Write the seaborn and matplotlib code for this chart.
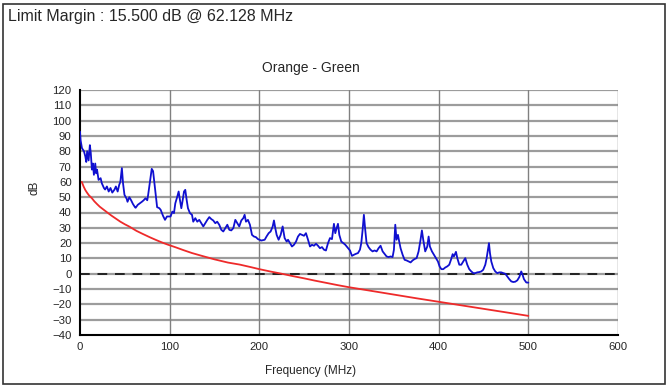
import matplotlib
matplotlib.use("Agg")
import matplotlib.pyplot as plt
import seaborn as sns
import pandas as pd
from matplotlib.patches import Rectangle

# ---- data ----
meas_freq = [0, 0.7, 2.2, 4.4, 6, 7, 8, 9.6, 11, 12, 13.3, 14.4, 15.5, 17, 18, 19, 20.7, 23, 24.4,
             26.7, 28, 30, 32, 34, 36, 38.5, 40, 42, 43.7, 45, 46.7, 48, 49.6, 52, 53, 55, 57,
             59, 61.5, 62.1, 64.4, 66.7, 69, 71, 73, 75, 76, 78, 80, 81.5, 83, 85, 86, 88.5, 90,
             92.6, 94.8, 97, 100, 101, 103, 104.8, 106.3, 108.5, 110, 111.5, 113, 114.5, 116,
             117.4, 119, 120.4, 122.6, 124.9, 126.3, 128.6, 130.8, 133, 135.3, 137.5, 139.7, 142,
             144.2, 146.4, 148.6, 150.9, 153, 155.3, 157.6, 159.8, 162, 164.3, 166.5, 168.7, 171,
             173.2, 175.4, 177.6, 179.9, 182.1, 183.6, 185.1, 187.3, 189.5, 191.8, 194, 196.2,
             198.5, 202.2, 206, 208, 210.4, 212.6, 214.9, 216.3, 217.8, 219.3, 221.5, 223.8, 226,
             228.2, 230.5, 232, 234.2, 236.4, 238.6, 240.9, 243.1, 245.3, 247.6, 249.8, 252,
             254.3, 256.5, 258.7, 261, 263.2, 265.4, 267.6, 269.9, 272.1, 274.3, 276.6, 278.8,
             281, 283.2, 284.7, 286.2, 287.7, 289.2, 291.4, 293.7, 295.9, 298.9, 301.1, 303.3,
             305.5, 307.7, 310, 312.2, 313.7, 315.2, 316.6, 318.1, 319.6, 321.8, 324, 326.3,
             328.5, 330.8, 333, 335.2, 337.5, 339.7, 341.9, 344.1, 346.4, 348.6, 350.1, 351.6,
             353, 354.6, 356, 357.5, 359.8, 362, 364.2, 366.5, 368.7, 370.9, 373.1, 375.4, 377.6,
             379.8, 381.3, 382.8, 385, 387.3, 388.8, 390.2, 392.5, 394.7, 396.9, 399.2, 401,
             403, 405.1, 407.4, 409.6, 411.8, 414, 415.6, 417, 419.3, 420.8, 423, 425.2, 427.4,
             429.7, 431.9, 434.1, 436.4, 438.6, 440.8, 443, 445.3, 447.5, 449.7, 452, 453.5, 455,
             456.1, 457.2, 458.7, 460.9, 463.1, 465.4, 467.6, 469.8, 472.1, 474.3, 476.5, 478.7,
             481, 483.2, 485.4, 487.7, 489.9, 492.1, 493.6, 495.1, 497.7, 500]
meas_db = [92.8, 87, 82, 80, 76.5, 73, 80, 74, 84, 79, 68, 72, 64.6, 72, 65.6, 68, 61.3, 62.4, 59,
           56, 55, 57, 53.7, 56, 53, 55, 57, 53.7, 58, 60, 69, 59, 51.5, 49, 47, 50, 48,
           45.6, 43.3, 43.1, 45, 46, 47, 48, 49.3, 48, 51.5, 60, 68.5, 67, 59, 48, 43.5, 42.8, 41.7,
           37.8, 35.2, 37.4, 37.4, 37.4, 40.6, 39.6, 46, 50.4, 53.7, 48, 42.8, 48, 53.7,
           54.8, 48, 42.8, 39.6, 38.5, 34, 36.3, 34, 35.2, 33, 30.9, 33, 35.2,
           37, 35.7, 34.8, 33, 34, 32, 28.7, 27.6, 29.8, 32, 28.7, 28.3, 29.8,
           35.2, 33, 30.9, 34.8, 36.3, 38.5, 34, 35.2, 32, 25.4, 24.3, 23.9,
           22.6, 21.7, 22.2, 24.3, 26.5, 27.6, 30.9, 34.8, 29.8, 25.4, 22.2, 25.4, 30.9,
           23.3, 21, 22.2, 20, 17.8, 18.9, 21, 24.3, 26, 25.4, 24.8, 26.5,
           22.2, 17.8, 18.9, 18.3, 19.6, 18.3, 16.7, 17.4, 15.7, 15.2, 20, 23.3,
           22.6, 32.6, 26.5, 29.8, 32.6, 25.4, 21, 20, 18.9, 16.7, 15.2, 11.7,
           12.4, 13, 13.5, 15.7, 20, 28.7, 38.5, 28.7, 20, 17.4, 15.7, 14.6,
           15.2, 14.6, 16.7, 18.3, 14.6, 13, 11.3, 10.9, 11.3, 10.9, 15.7, 32,
           22.2, 25.4, 21, 16.7, 12.4, 9.1, 8.7, 8, 7.4, 8.7, 9.6, 10.2, 14.6,
           22.2, 28.3, 22.2, 14.6, 17.8, 24.3, 17.8, 14.6, 12.4, 10.2, 8, 4.8,
           3, 3, 4.1, 4.8, 5.9, 9.6, 12.8, 11.3, 14.3, 10.2, 5.9, 5.9, 8,
           10.2, 5.9, 3, 1.5, 0.4, 0.4, 0.9, 1.1, 1.5, 2.6, 5.9, 10.2, 15.7,
           20, 13.5, 8, 3.7, 1.5, 0.4, 0.9, 0.9, 0.4, 0, -1.7, -3.5,
           -5, -5.4, -5.2, -4.3, -2.2, 1.5, -0.7, -3.5, -5.7, -5.8]

limit_freq = [2, 4, 6, 8, 10, 13, 16, 19, 22, 26, 30, 35, 40, 45, 50, 55, 63, 70, 78, 85, 92, 98,
              107, 115, 125, 137, 150, 165, 178, 190, 200, 212, 225, 237, 250, 262, 275, 287,
              300, 325, 350, 375, 400, 425, 450, 475, 500]
limit_db = [60, 57, 54.6, 52.8, 51.2, 49.5, 47.3, 45.5, 43.8, 42, 40.2, 38, 36, 34, 32.3, 30.8,
            28, 26, 23.8, 22, 20.3, 19, 17.2, 15.5, 13.5, 11.5, 9.4, 7.3, 6, 4.4, 3, 1.5, 0,
            -1.5, -3, -4.5, -6, -7.4, -8.8, -11.2, -13.6, -16, -18.3, -20.6, -22.9, -25.2,
            -27.5]

x_ticks = [0, 100, 200, 300, 400, 500, 600]
y_ticks = list(range(-40, 121, 10))

title_text = "Limit Margin : 15.500 dB @ 62.128 MHz"
chart_title = "Orange - Green"
x_label = "Frequency (MHz)"
y_label = "dB"

# ---- drawing ----
sns.set_style("white")
plt.rcParams['font.family'] = ['Liberation Sans', 'DejaVu Sans']

W, H = 668, 386
fig = plt.figure(figsize=(W / 100, H / 100), dpi=100)
ax = fig.add_axes([80 / W, 1 - 335 / H, (618 - 80) / W, (335 - 90) / H])

meas = pd.DataFrame({"f": meas_freq, "db": meas_db})
lim = pd.DataFrame({"f": limit_freq, "db": limit_db})

for y in y_ticks[1:]:
    ax.axhline(y, color="#9c9c9c", lw=1.6, zorder=0)
for x in x_ticks[1:]:
    ax.axvline(x, color="#808080", lw=1.0, zorder=0)

ax.axhline(0, color="#222222", lw=1.4, ls=(0, (5, 4)), zorder=1)

sns.lineplot(data=lim, x="f", y="db", ax=ax, color="#ee2a2a", lw=1.3, zorder=2)
sns.lineplot(data=meas, x="f", y="db", ax=ax, color="#1010d0", lw=1.3, zorder=3)

ax.set_xlim(0, 600)
ax.set_ylim(-40, 120)
ax.set_xticks(x_ticks)
ax.set_yticks(y_ticks)
ax.set_xlabel("")
ax.set_ylabel("")
ax.tick_params(axis="x", direction="in", length=6, width=1.3, color="black",
               labelsize=8.2, pad=5)
ax.tick_params(axis="y", direction="out", length=5, width=1.3, color="black",
               labelsize=8.2, pad=1)
for side in ["left", "bottom"]:
    ax.spines[side].set_color("black")
    ax.spines[side].set_linewidth(1.5)
for side in ["top", "right"]:
    ax.spines[side].set_visible(False)

fig.text(311 / W, 1 - 68 / H, chart_title, ha="center", va="center", fontsize=10)
fig.text(311 / W, 1 - 371 / H, x_label, ha="center", va="center", fontsize=8.5)
fig.text(35 / W, 1 - 188 / H, y_label, ha="center", va="center", fontsize=8.5, rotation=90)
fig.text(8 / W, 1 - 17 / H, title_text, ha="left", va="center", fontsize=11.5)

fig.patches.append(Rectangle((3 / W, 2 / H), (665 - 3) / W, (382 - 2) / H,
                             transform=fig.transFigure, fill=False, edgecolor="#333333",
                             lw=1.2))

fig.savefig("out.png", dpi=100)
